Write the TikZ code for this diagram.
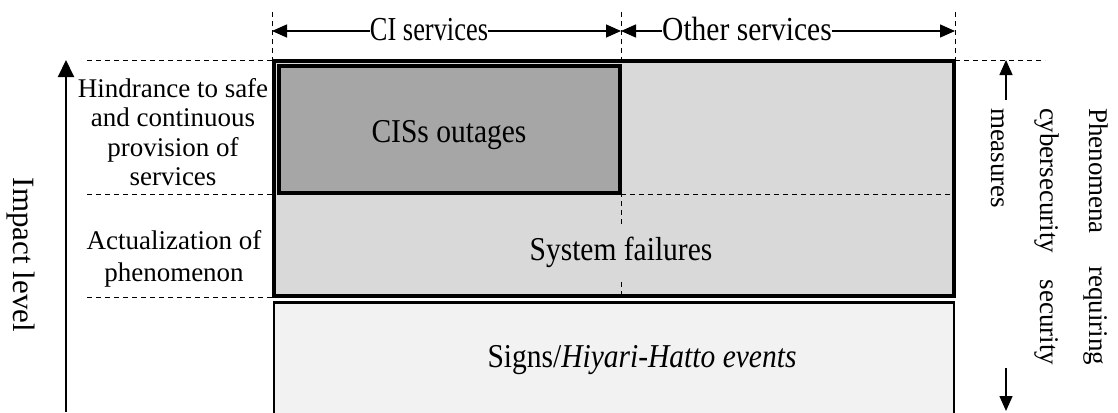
\documentclass[tikz,border=0pt]{standalone}
\usepackage{fontspec}
\usepackage{graphicx}
\setmainfont{Liberation Serif}
\usetikzlibrary{arrows.meta}

\begin{document}
\begin{tikzpicture}[x=1pt, y=-1pt,
    guide/.style = {dash pattern=on 5pt off 4pt, line width=0.9pt},
    dimarrow/.style = {line width=1.4pt, -{Triangle[length=15pt, width=13pt]}},
    lbl/.style = {font=\fontsize{27}{29.5}\selectfont, align=center, inner sep=0pt},
    big/.style = {font=\fontsize{29.5}{32}\selectfont, inner sep=0pt, anchor=base}]
  \useasboundingbox (0,0) rectangle (1118,412);
  % layers of phenomena
  \filldraw[fill=black!15, line width=3.5pt] (274,61) rectangle (954,296);
  \filldraw[fill=black!5, line width=2.5pt] (274,302.5) rectangle (954,416);
  \draw[guide] (621,194) -- (954,194);
  \draw[guide] (621,12) -- (621,296);
  \filldraw[fill=black!35, line width=4pt] (279,66) rectangle (620,193);
  \node[big] (cis) at (449,142) {\scalebox{1}[1.13]{CISs outages}};
  \node[big, fill=black!15, inner ysep=12pt] (sysf) at (621,260) {\scalebox{1}[1.13]{System failures}};
  \node[big] (signs) at (642,367) {\scalebox{1}[1.13]{Signs/\textit{Hiyari-Hatto events}}};
  % services
  \draw[guide] (272,12) -- (272,60);
  \draw[guide] (955,12) -- (955,60);
  \node[big, font=\fontsize{26.4}{30}\selectfont] (ci) at (429,41) {\scalebox{1}[1.27]{CI services}};
  \node[big] (other) at (747,41) {\scalebox{1}[1.14]{Other services}};
  \coordinate (cil) at (272,31);
  \coordinate (mid) at (621,31);
  \coordinate (otr) at (955,31);
  \draw[dimarrow] (ci.west |- cil) -- (cil);
  \draw[dimarrow] (ci.east |- cil) -- (mid);
  \draw[dimarrow] (other.west |- cil) -- (mid);
  \draw[dimarrow] (other.east |- cil) -- (otr);
  % impact levels
  \draw[guide] (87,60) -- (272,60);
  \draw[guide] (87,194) -- (274,194);
  \draw[guide] (87,297) -- (272,297);
  \node[lbl] (hind) at (173,132) {Hindrance to safe\\and continuous\\provision of\\services};
  \node[lbl, font=\fontsize{27}{31.5}\selectfont] (actual) at (174,259) {Actualization of\\phenomenon};
  \coordinate (ibot) at (66,412);
  \coordinate (itop) at (66,60);
  \draw[line width=2pt, -{Triangle[length=17pt, width=16pt]}] (ibot) -- (itop);
  \node[rotate=-90, font=\fontsize{31}{35}\selectfont] (impact) at (21,255) {Impact level};
  % cybersecurity measures
  \draw[guide] (955,60) -- (1045,60);
  \node[rotate=-90, text width=257pt, align=left, inner sep=0pt,
    font=\fontsize{27}{49}\selectfont] (phen) at (1050,236.5)
    {Phenomena\hfill requiring\\cybersecurity\hfill security\\measures};
  \coordinate (mtop) at (1006,100);
  \coordinate (mbot) at (1006,368);
  \draw[dimarrow] (mtop) -- (1006,60);
  \draw[dimarrow] (mbot) -- (1006,411);
\end{tikzpicture}
\end{document}
